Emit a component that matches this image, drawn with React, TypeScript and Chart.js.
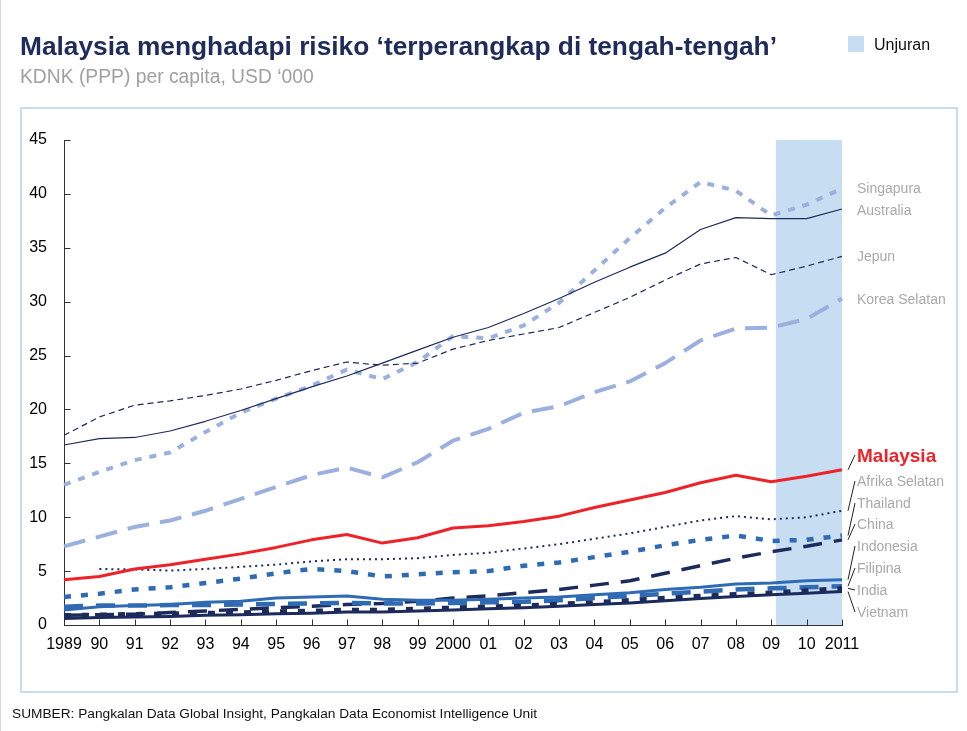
import React, { useEffect, useRef } from 'react';
import { Chart, registerables } from 'chart.js';

Chart.register(...registerables);

// ---------- data ----------
const years = ['1989', '90', '91', '92', '93', '94', '95', '96', '97', '98', '99', '2000', '01', '02', '03', '04', '05', '06', '07', '08', '09', '10', '2011'];

const singapura = [13.0, 14.2, 15.3, 16.0, 17.9, 19.7, 21.0, 22.2, 23.7, 22.8, 24.4, 26.8, 26.6, 27.8, 29.9, 32.9, 35.9, 38.7, 41.1, 40.3, 38.0, 39.0, 40.5];
const australia = [16.7, 17.3, 17.4, 18.0, 18.9, 19.9, 21.0, 22.1, 23.1, 24.3, 25.5, 26.7, 27.6, 28.9, 30.3, 31.8, 33.2, 34.5, 36.7, 37.8, 37.7, 37.7, 38.6];
const jepun = [17.6, 19.3, 20.4, 20.8, 21.3, 21.9, 22.7, 23.6, 24.4, 24.1, 24.3, 25.6, 26.4, 27.0, 27.6, 29.0, 30.4, 32.0, 33.5, 34.1, 32.5, 33.3, 34.2];
const koreaSelatan = [7.3, 8.2, 9.1, 9.7, 10.6, 11.7, 12.8, 13.9, 14.6, 13.7, 15.1, 17.1, 18.2, 19.7, 20.3, 21.6, 22.6, 24.3, 26.4, 27.5, 27.6, 28.4, 30.3];
const malaysia = [4.2, 4.5, 5.2, 5.6, 6.1, 6.6, 7.2, 7.9, 8.4, 7.6, 8.1, 9.0, 9.2, 9.6, 10.1, 10.9, 11.6, 12.3, 13.2, 13.9, 13.3, 13.8, 14.4];
const afrikaSelatan = [null, 5.2, 5.15, 5.05, 5.2, 5.4, 5.6, 5.9, 6.1, 6.1, 6.2, 6.5, 6.7, 7.1, 7.5, 8.0, 8.5, 9.1, 9.7, 10.1, 9.8, 10.0, 10.6];
const thailand = [2.6, 2.9, 3.3, 3.5, 3.9, 4.3, 4.8, 5.2, 5.0, 4.5, 4.7, 4.9, 5.0, 5.5, 5.8, 6.3, 6.8, 7.4, 7.9, 8.3, 7.8, 7.9, 8.3];
const china = [0.9, 0.95, 1.0, 1.15, 1.3, 1.45, 1.6, 1.75, 1.9, 2.0, 2.2, 2.5, 2.7, 3.0, 3.3, 3.7, 4.1, 4.8, 5.5, 6.2, 6.8, 7.3, 7.9];
const indonesia = [1.4, 1.7, 1.8, 1.9, 2.1, 2.2, 2.5, 2.6, 2.7, 2.4, 2.3, 2.3, 2.4, 2.5, 2.6, 2.8, 3.0, 3.3, 3.5, 3.8, 3.9, 4.1, 4.2];
const filipina = [1.7, 1.8, 1.8, 1.85, 1.85, 1.9, 1.95, 2.0, 2.05, 2.0, 2.0, 2.05, 2.1, 2.15, 2.3, 2.5, 2.7, 2.9, 3.1, 3.3, 3.4, 3.5, 3.6];
const india = [0.9, 0.95, 1.0, 1.05, 1.1, 1.15, 1.25, 1.3, 1.4, 1.4, 1.5, 1.6, 1.7, 1.8, 1.95, 2.1, 2.3, 2.5, 2.7, 2.85, 3.0, 3.2, 3.4];
const vietnam = [0.6, 0.7, 0.75, 0.8, 0.9, 0.95, 1.05, 1.1, 1.2, 1.2, 1.3, 1.4, 1.5, 1.6, 1.75, 1.9, 2.05, 2.25, 2.45, 2.65, 2.8, 2.95, 3.1];

const yMin = 0;
const yMax = 45;
const yStep = 5;
const projectionStart = 20.13; // index position (just after 2009) where "Unjuran" begins

const seriesNames = ['Singapura', 'Australia', 'Jepun', 'Korea Selatan', 'Malaysia', 'Afrika Selatan', 'Thailand', 'China', 'Indonesia', 'Filipina', 'India', 'Vietnam'];

// ---------- styles / layout ----------
const NAVY = '#1d2a5c';
const BLUE = '#2f6bb5';
const LIGHT = '#9bb0de';
const RED = '#ee2229';
const SHADE = '#c7ddf2';
const FONT = "'Liberation Sans', Arial, Helvetica, sans-serif";

const labelCenters = [188, 210, 256, 299, 455, 481, 503, 524, 546, 568, 590, 612];
const withLeader = [false, false, false, false, true, true, true, true, true, true, true, true];

const seriesData: Record<string, (number | null)[]> = {
  'Singapura': singapura,
  'Australia': australia,
  'Jepun': jepun,
  'Korea Selatan': koreaSelatan,
  'Malaysia': malaysia,
  'Afrika Selatan': afrikaSelatan,
  'Thailand': thailand,
  'China': china,
  'Indonesia': indonesia,
  'Filipina': filipina,
  'India': india,
  'Vietnam': vietnam,
};

const seriesStyle: Record<string, any> = {
  'Singapura': { borderColor: LIGHT, borderWidth: 4, borderDash: [7, 8] },
  'Australia': { borderColor: NAVY, borderWidth: 1.2, borderDash: [] },
  'Jepun': { borderColor: NAVY, borderWidth: 1.2, borderDash: [6, 4] },
  'Korea Selatan': { borderColor: LIGHT, borderWidth: 4, borderDash: [22, 11] },
  'Malaysia': { borderColor: RED, borderWidth: 3, borderDash: [] },
  'Afrika Selatan': { borderColor: NAVY, borderWidth: 2, borderDash: [2, 4] },
  'Thailand': { borderColor: BLUE, borderWidth: 4.5, borderDash: [7, 10] },
  'China': { borderColor: NAVY, borderWidth: 3.5, borderDash: [19, 12] },
  'Indonesia': { borderColor: BLUE, borderWidth: 3, borderDash: [] },
  'Filipina': { borderColor: BLUE, borderWidth: 4.5, borderDash: [19, 13] },
  'India': { borderColor: NAVY, borderWidth: 4.5, borderDash: [7, 11] },
  'Vietnam': { borderColor: NAVY, borderWidth: 3, borderDash: [] },
};

// first drawn on top
const drawOrder = ['Malaysia', 'Vietnam', 'India', 'Indonesia', 'Filipina', 'China', 'Afrika Selatan', 'Thailand', 'Korea Selatan', 'Jepun', 'Australia', 'Singapura'];

const decorPlugin = {
  id: 'decor',
  beforeDraw(chart: any) {
    const { ctx, scales } = chart;
    const x = scales.x;
    const y = scales.y;
    const i0 = Math.floor(projectionStart);
    const x0 = x.getPixelForValue(i0) + (projectionStart - i0) * (x.getPixelForValue(i0 + 1) - x.getPixelForValue(i0));
    const x1 = x.getPixelForValue(years.length - 1);
    const top = y.getPixelForValue(yMax);
    const bottom = y.getPixelForValue(yMin);
    ctx.save();
    ctx.fillStyle = SHADE;
    ctx.fillRect(x0, top, x1 - x0, bottom - top);
    ctx.restore();
  },
  afterDatasetsDraw(chart: any) {
    const { ctx, scales } = chart;
    const x = scales.x;
    const y = scales.y;
    ctx.save();
    ctx.strokeStyle = '#333';
    ctx.lineWidth = 1;
    // inward tick marks
    const left = Math.round(x.getPixelForValue(0)) + 0.5;
    for (let v = yMin; v <= yMax; v += yStep) {
      const py = Math.round(y.getPixelForValue(v)) + 0.5;
      ctx.beginPath();
      ctx.moveTo(left, py);
      ctx.lineTo(left + 6, py);
      ctx.stroke();
    }
    const base = Math.round(y.getPixelForValue(yMin)) + 0.5;
    for (let i = 0; i < years.length; i++) {
      const px = Math.round(x.getPixelForValue(i)) + 0.5;
      ctx.beginPath();
      ctx.moveTo(px, base);
      ctx.lineTo(px, base - 6);
      ctx.stroke();
    }
    // leader lines to labels
    const xEnd = x.getPixelForValue(years.length - 1);
    ctx.strokeStyle = '#222';
    ctx.lineWidth = 1;
    seriesNames.forEach((name, k) => {
      if (!withLeader[k]) return;
      const d = seriesData[name];
      const py = y.getPixelForValue(d[d.length - 1] as number);
      ctx.beginPath();
      ctx.moveTo(xEnd + 6, py);
      ctx.lineTo(xEnd + 13, labelCenters[k]);
      ctx.stroke();
    });
    ctx.restore();
  },
};

export default function App() {
  const ref = useRef<HTMLCanvasElement>(null);

  useEffect(() => {
    const datasets = drawOrder.map((name) => ({
      label: name,
      data: seriesData[name],
      ...seriesStyle[name],
      pointRadius: 0,
      pointHoverRadius: 0,
      fill: false,
      tension: 0,
      spanGaps: false,
      borderCapStyle: 'butt',
      borderJoinStyle: 'round',
    }));
    const chart = new Chart(ref.current as HTMLCanvasElement, {
      type: 'line',
      data: { labels: years, datasets: datasets as any },
      options: {
        responsive: false,
        animation: false,
        events: [],
        layout: { padding: { left: 0, top: 140, right: 125, bottom: 66 } },
        plugins: {
          legend: { display: false },
          tooltip: { enabled: false },
          title: { display: false },
        },
        scales: {
          x: {
            type: 'category',
            offset: false,
            grid: { display: false, drawTicks: false },
            border: { display: true, color: '#333', width: 1 },
            ticks: {
              autoSkip: false,
              maxRotation: 0,
              color: '#000',
              padding: 10,
              font: { family: FONT, size: 16 },
            },
            afterFit: (s: any) => { s.height = 40; },
          },
          y: {
            min: yMin,
            max: yMax,
            grid: { display: false, drawTicks: false },
            border: { display: true, color: '#333', width: 1 },
            ticks: {
              stepSize: yStep,
              color: '#000',
              padding: 17,
              font: { family: FONT, size: 16 },
            },
            afterFit: (s: any) => { s.width = 64; },
          },
        },
      },
      plugins: [decorPlugin],
    });
    return () => chart.destroy();
  }, []);

  const abs = (o: React.CSSProperties): React.CSSProperties => ({ position: 'absolute', whiteSpace: 'nowrap', lineHeight: 1, ...o });

  return (
    <div style={{ position: 'fixed', left: 0, top: 0, width: 967, height: 731, background: '#fff', overflow: 'hidden', fontFamily: FONT }}>
      <div style={abs({ left: 0, top: 0, width: 1, height: 731, background: '#d6d6d6' })} />
      <div style={abs({ left: 20, top: 107, width: 934, height: 582, border: '2px solid #c9ddf1' })} />
      <canvas ref={ref} width={967} height={731} style={{ position: 'absolute', left: 0, top: 0, width: 967, height: 731 }} />
      <div style={abs({ left: 20, top: 33, fontSize: 26.3, fontWeight: 'bold', color: '#1e2b5b' })}>
        Malaysia menghadapi risiko ‘terperangkap di tengah-tengah’
      </div>
      <div style={abs({ left: 20, top: 67, fontSize: 19.3, color: '#a0a0a0' })}>KDNK (PPP) per capita, USD ‘000</div>
      <div style={abs({ left: 848, top: 36, width: 16, height: 16, background: SHADE })} />
      <div style={abs({ left: 874, top: 37, fontSize: 16, color: '#111' })}>Unjuran</div>
      {seriesNames.map((name, k) => {
        const isMy = name === 'Malaysia';
        const fs = isMy ? 19 : 14;
        return (
          <div key={name} style={abs({ left: 857, top: labelCenters[k] - fs / 2, fontSize: fs, fontWeight: isMy ? 'bold' : 'normal', color: isMy ? RED : '#a9a9a9' })}>
            {name}
          </div>
        );
      })}
      <div style={abs({ left: 12, top: 707, fontSize: 13.7, color: '#111' })}>
        SUMBER: Pangkalan Data Global Insight, Pangkalan Data Economist Intelligence Unit
      </div>
    </div>
  );
}
